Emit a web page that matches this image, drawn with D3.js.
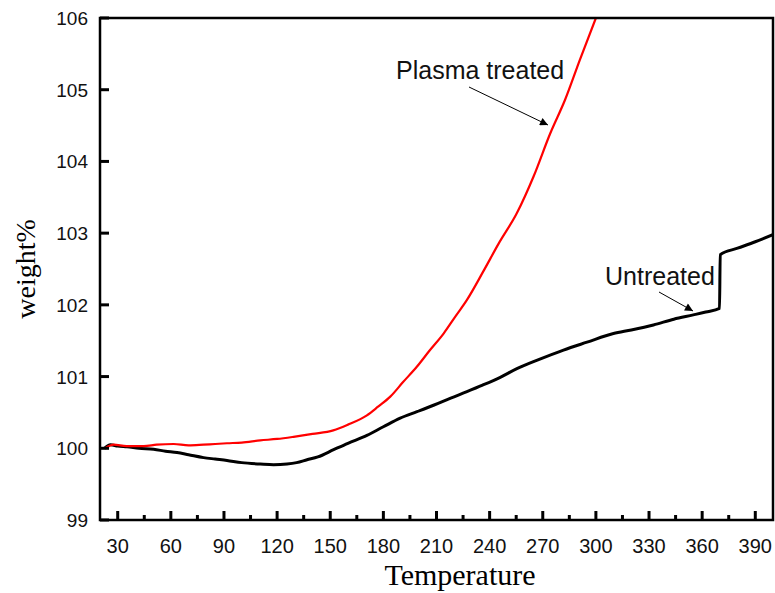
<!DOCTYPE html>
<html>
<head>
<meta charset="utf-8">
<script src="https://cdn.jsdelivr.net/npm/d3@7"></script>
<style>
  body { margin: 0; background: #fff; }
  svg { display: block; }
</style>
</head>
<body>
<div id="app"></div>
<script>
// data: temperature, weight%
const untreatedT = [22.5, 25.9, 30, 35.3, 42, 50.3, 57, 63.5, 70, 78.5, 85, 91.7, 100, 110.5, 118, 125.6, 131, 136.9, 143, 151.9, 160, 170.7, 180, 189.5, 199, 208.3, 218, 227.2, 236, 246, 255.4, 268, 281.7, 295, 309.9, 320, 332.5, 344, 355, 362, 369.8, 370.2, 380, 390, 400];
const untreatedW = [100.0, 100.05, 100.03, 100.02, 100.0, 99.985, 99.96, 99.94, 99.91, 99.87, 99.85, 99.83, 99.8, 99.78, 99.77, 99.78, 99.8, 99.84, 99.88, 99.98, 100.07, 100.18, 100.3, 100.42, 100.51, 100.6, 100.7, 100.79, 100.88, 100.99, 101.11, 101.24, 101.37, 101.48, 101.6, 101.65, 101.72, 101.8, 101.86, 101.9, 101.95, 102.7, 102.79, 102.88, 102.98];

const plasmaT = [23, 27.7, 35, 44.7, 52, 61.6, 70, 78.4, 85, 91.7, 100, 110.5, 120, 129.3, 140, 151.7, 160, 170.7, 177, 183.9, 191, 199, 206, 214, 221, 227.2, 236.5, 245, 255.4, 264.8, 274.2, 282.6, 291, 300];
const plasmaW = [100.0, 100.05, 100.03, 100.03, 100.05, 100.06, 100.04, 100.05, 100.06, 100.07, 100.08, 100.11, 100.13, 100.16, 100.2, 100.25, 100.33, 100.46, 100.58, 100.72, 100.92, 101.14, 101.36, 101.6, 101.85, 102.07, 102.47, 102.85, 103.28, 103.79, 104.39, 104.86, 105.42, 106.0];

const xTicks = [30, 60, 90, 120, 150, 180, 210, 240, 270, 300, 330, 360, 390];
const xMinor = [45, 75, 105, 135, 165, 195, 225, 255, 285, 315, 345, 375];
const yTicks = [99, 100, 101, 102, 103, 104, 105, 106];

const W = 775, H = 593;
const m = { left: 100, right: 773, top: 18, bottom: 520 };
const font = 'Arial, "Liberation Sans", sans-serif';
const serif = '"Liberation Serif", "Times New Roman", serif';

const svg = d3.select('#app').append('svg')
  .attr('width', W).attr('height', H);

const x = d3.scaleLinear().domain([20, 400]).range([m.left, m.right]);
const y = d3.scaleLinear().domain([99, 106]).range([m.bottom, m.top]);

// clip so the red curve stops at the frame
svg.append('clipPath').attr('id', 'clip')
  .append('rect').attr('x', m.left).attr('y', m.top)
  .attr('width', m.right - m.left).attr('height', m.bottom - m.top);

const line = d3.line().curve(d3.curveMonotoneX).x(d => x(d[0])).y(d => y(d[1]));

const plot = svg.append('g').attr('clip-path', 'url(#clip)');

plot.append('path')
  .datum(d3.zip(untreatedT, untreatedW))
  .attr('d', line)
  .attr('fill', 'none')
  .attr('stroke', '#000')
  .attr('stroke-width', 3)
  .attr('stroke-linejoin', 'round');

plot.append('path')
  .datum(d3.zip(plasmaT, plasmaW))
  .attr('d', line)
  .attr('fill', 'none')
  .attr('stroke', '#ff0000')
  .attr('stroke-width', 2.2)
  .attr('stroke-linejoin', 'round');

// ticks, pointing inward
svg.append('g').selectAll('line').data(xTicks).join('line')
  .attr('x1', d => x(d)).attr('x2', d => x(d))
  .attr('y1', m.bottom).attr('y2', m.bottom - 9)
  .attr('stroke', '#000').attr('stroke-width', 3);
svg.append('g').selectAll('line').data(xMinor).join('line')
  .attr('x1', d => x(d)).attr('x2', d => x(d))
  .attr('y1', m.bottom).attr('y2', m.bottom - 5)
  .attr('stroke', '#000').attr('stroke-width', 3);
svg.append('g').selectAll('line').data(yTicks).join('line')
  .attr('x1', m.left).attr('x2', m.left + 9)
  .attr('y1', d => y(d)).attr('y2', d => y(d))
  .attr('stroke', '#000').attr('stroke-width', 3);

// tick labels
svg.append('g').selectAll('text').data(xTicks).join('text')
  .attr('x', d => x(d)).attr('y', 553)
  .attr('text-anchor', 'middle')
  .attr('font-family', font).attr('font-size', 20).attr('fill', '#111')
  .text(d => d);
svg.append('g').selectAll('text').data(yTicks).join('text')
  .attr('x', 88).attr('y', d => y(d) + 7)
  .attr('text-anchor', 'end')
  .attr('font-family', font).attr('font-size', 19).attr('fill', '#111')
  .text(d => d);

// frame
svg.append('rect')
  .attr('x', m.left).attr('y', m.top)
  .attr('width', m.right - m.left).attr('height', m.bottom - m.top)
  .attr('fill', 'none').attr('stroke', '#000').attr('stroke-width', 2.5);

// axis titles
svg.append('text')
  .attr('x', 460).attr('y', 585)
  .attr('text-anchor', 'middle')
  .attr('font-family', serif)
  .attr('font-size', 30)
  .text('Temperature');

svg.append('text')
  .attr('transform', 'translate(35,269) rotate(-90)')
  .attr('text-anchor', 'middle')
  .attr('font-family', serif)
  .attr('font-size', 28)
  .text('weight%');

// annotations
const defs = svg.append('defs');
defs.append('marker').attr('id', 'arrow')
  .attr('viewBox', '0 0 10 10').attr('refX', 10).attr('refY', 5)
  .attr('markerWidth', 12).attr('markerHeight', 8).attr('markerUnits', 'userSpaceOnUse')
  .attr('orient', 'auto')
  .append('path').attr('d', 'M0,0 L10,5 L0,10 Z').attr('fill', '#000');

const notes = [
  { text: 'Plasma treated', tx: 396, ty: 79, x1: 469, y1: 87, x2: 548, y2: 125 },
  { text: 'Untreated', tx: 605, ty: 285, x1: 659, y1: 292, x2: 693, y2: 311 }
];

notes.forEach(n => {
  svg.append('text')
    .attr('x', n.tx).attr('y', n.ty)
    .attr('font-family', font)
    .attr('font-size', 25).attr('fill', '#111')
    .text(n.text);
  svg.append('line')
    .attr('x1', n.x1).attr('y1', n.y1).attr('x2', n.x2).attr('y2', n.y2)
    .attr('stroke', '#000').attr('stroke-width', 1)
    .attr('marker-end', 'url(#arrow)');
});
</script>
</body>
</html>
